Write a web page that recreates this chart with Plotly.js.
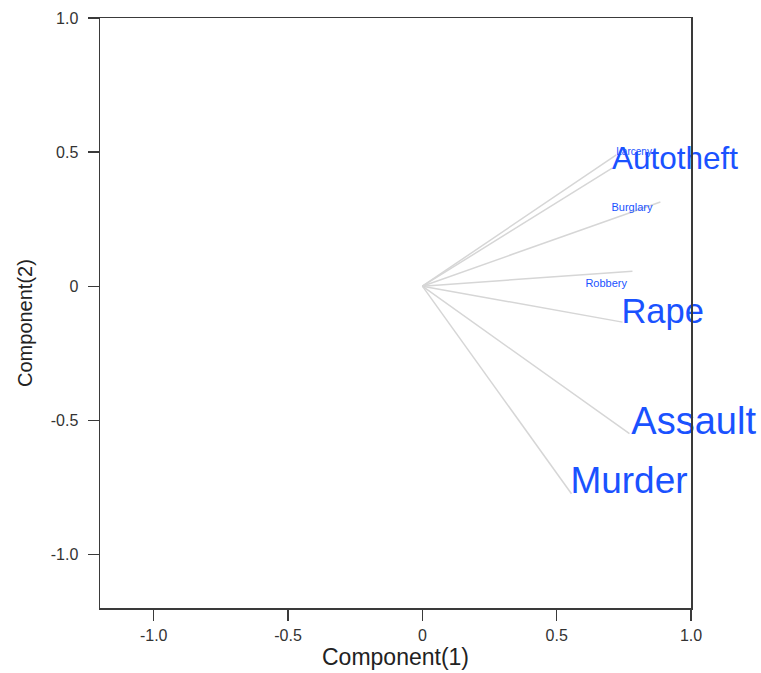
<!DOCTYPE html>
<html>
<head>
<meta charset="utf-8">
<script src="https://cdn.plot.ly/plotly-3.0.1.min.js"></script>
<style>html,body{margin:0;padding:0;background:#fff;}#chart{width:761px;height:673px;}</style>
</head>
<body>
<div id="chart"></div>
<script>
// Variables and their loadings on the first two components
var variables = ['Murder', 'Assault', 'Rape', 'Robbery', 'Burglary', 'Larceny', 'Autotheft'];
var comp1 = [0.555, 0.771, 0.745, 0.782, 0.886, 0.722, 0.708];
var comp2 = [-0.774, -0.550, -0.134, 0.056, 0.314, 0.490, 0.441];
// Label anchor positions (data coordinates) and label sizes as in the reference
var labelX = [0.551, 0.778, 0.741, 0.607, 0.704, 0.722, 0.706];
var labelY = [-0.738, -0.514, -0.106, 0.008, 0.289, 0.498, 0.468];
var labelSize = [37, 38, 34.5, 11, 11, 10, 31.5];

var xTicks = [-1.0, -0.5, 0, 0.5, 1.0];
var xTickText = ['-1.0', '-0.5', '0', '0.5', '1.0'];
var yTicks = [-1.0, -0.5, 0, 0.5, 1.0];
var yTickText = ['-1.0', '-0.5', '0', '0.5', '1.0'];
var xTitle = 'Component(1)';
var yTitle = 'Component(2)';

var segX = [], segY = [];
for (var i = 0; i < variables.length; i++) {
  segX.push(0, comp1[i], null);
  segY.push(0, comp2[i], null);
}

var FONT = 'Liberation Sans, Arial, sans-serif';

var lines = {
  type: 'scatter', mode: 'lines', x: segX, y: segY,
  line: {color: '#d6d6d6', width: 1.5},
  hoverinfo: 'skip', showlegend: false, cliponaxis: false
};
var labels = {
  type: 'scatter', mode: 'text', x: labelX, y: labelY, text: variables,
  textposition: 'middle right',
  textfont: {family: FONT, size: labelSize, color: '#1a52ff'},
  showlegend: false, cliponaxis: false, hoverinfo: 'text'
};

var axisCommon = {
  showgrid: false, zeroline: false, showline: true, mirror: true,
  linecolor: '#3a3a3a', linewidth: 1.5,
  ticks: 'outside', ticklen: 11, tickwidth: 1.2, tickcolor: '#3a3a3a',
  tickfont: {family: FONT, size: 16, color: '#333'},
  fixedrange: true
};

var layout = {
  width: 761, height: 673,
  margin: {l: 100, r: 70, t: 18, b: 65},
  paper_bgcolor: '#fff', plot_bgcolor: '#fff',
  xaxis: Object.assign({}, axisCommon, {
    range: [-1.2, 1.0], tickmode: 'array', tickvals: xTicks, ticktext: xTickText,
    ticklabelstandoff: 1
  }),
  yaxis: Object.assign({}, axisCommon, {
    range: [-1.2, 1.0], tickmode: 'array', tickvals: yTicks, ticktext: yTickText,
    ticklabelstandoff: 6
  }),
  annotations: [
    {text: xTitle, xref: 'paper', yref: 'paper', x: 0.5, y: -0.083,
     xanchor: 'center', yanchor: 'middle', showarrow: false,
     font: {family: FONT, size: 23, color: '#222'}},
    {text: yTitle, xref: 'paper', yref: 'paper', x: -0.127, y: 0.483,
     xanchor: 'center', yanchor: 'middle', showarrow: false, textangle: -90,
     font: {family: FONT, size: 20, color: '#222'}}
  ]
};

Plotly.newPlot('chart', [lines, labels], layout, {displayModeBar: false, staticPlot: true});
</script>
</body>
</html>
